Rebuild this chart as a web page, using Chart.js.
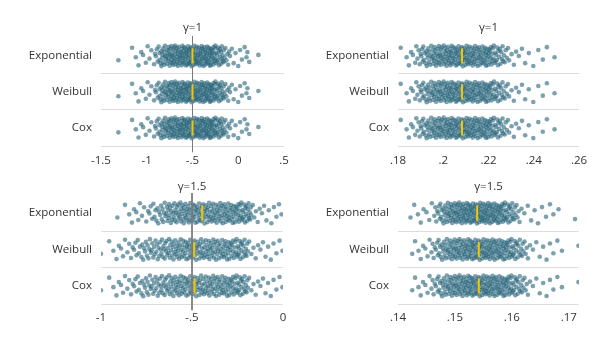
<!DOCTYPE html>
<html>
<head>
<meta charset="utf-8">
<script src="https://cdn.jsdelivr.net/npm/chart.js@4.4.1/dist/chart.umd.min.js"></script>
<style>
  body { margin: 0; background: #fff; }
  #wrap { position: relative; width: 607px; height: 348px; }
  canvas { position: absolute; }
</style>
</head>
<body>
<div id="wrap">
  <canvas id="p1" width="300" height="174" style="left:0;top:0"></canvas>
  <canvas id="p2" width="307" height="174" style="left:300px;top:0"></canvas>
  <canvas id="p3" width="300" height="174" style="left:0;top:174px"></canvas>
  <canvas id="p4" width="307" height="174" style="left:300px;top:174px"></canvas>
</div>
<script>
const rows = ["Exponential", "Weibull", "Cox"];

// vertical jitter of the strips, share of half a row
const jitter = [
  .42,-.77,.13,.91,-.35,-.08,.66,-.92,.27,-.54,.81,-.19,.04,-.63,.55,
  -.88,.37,-.26,.72,-.45,.98,-.11,.19,-.71,.6,-.39,.85,-.03,-.97,.31,
  .08,-.58,.76,-.23,.47,-.84,.22,-.49,.94,-.15,.63,-.68,.01,.39,-.93,
  .7,-.31,-.02,.87,-.6,.17,-.79,.52,-.13,.33,-.99,.79,-.41,.1,-.74,
  .58,-.21,.96,-.51,.26,-.86,.45,-.06,.69,-.36,.14,-.66,.89,-.28,.5,
  -.95,.03,.74,-.44,.21,-.81,.62,-.17,.36,-.7,.93,-.33,.06,-.57,.83,
  -.24,.48,-.9,.15,.67,-.47,-.05,.78,-.62,.29,-.83,.56,-.14,.99,-.38,
  .11,-.73,.4,-.27,.86,-.52,.24,-.96,.64,-.09,.35,-.65,.8,-.2,.53,
  -.87,.18,-.42,.71,-.01,.44,-.78,.92,-.3,.07,-.61,.59,-.16,.32,-.94,
  .77,-.46,.23,-.69,.97,-.12,.49,-.82,.12,-.37,.84,-.55,.28,-.04,.65,
  -.89,.41,-.22,.73,-.5,.16,-.76,.57,-.32,.95,-.07,.34,-.67,.88,-.25,
  .05,-.59,.61,-.43,.2,-.85,.82,-.18,.46,-.72,.25,-.98,.68,-.29,.54,
  -.1,.38,-.8,.9,-.48,.09,-.64,.75,-.34,.3,-.91,.51,-.06,.62,-.53,
  .19,-.75,.43,-.16,.85,-.4,.02,-.68,.7,-.26,.97,-.56,.36,-.83,.13,
  -.35,.58,-.09,.79,-.63,.24,-.97,.47,-.2,.66,-.44,.1,-.87,.91,-.31
];

// gamma = 1, left panel: the three models give the same estimates
const est1Left = [
  -1.31,-1.16,-1.12,-1.09,-1.06,-1.04,-1.01,-0.99,-0.97,-0.95,
  -0.92,-0.91,-0.90,-0.89,-0.88,
  -0.87,-0.86,-0.86,-0.85,-0.84,-0.84,-0.83,-0.83,
  -0.82,-0.82,-0.81,-0.81,-0.80,-0.80,-0.79,-0.79,-0.78,-0.78,
  -0.77,-0.77,-0.76,-0.76,-0.76,-0.75,-0.75,-0.74,-0.74,-0.74,-0.73,-0.73,
  -0.72,-0.72,-0.72,-0.71,-0.71,-0.71,-0.70,-0.70,-0.69,-0.69,-0.69,-0.68,-0.68,
  -0.67,-0.67,-0.67,-0.66,-0.66,-0.66,-0.65,-0.65,-0.64,-0.64,-0.64,-0.63,-0.63,
  -0.62,-0.62,-0.62,-0.61,-0.61,-0.61,-0.60,-0.60,-0.60,-0.59,-0.59,-0.59,-0.58,-0.58,
  -0.57,-0.57,-0.57,-0.56,-0.56,-0.56,-0.55,-0.55,-0.55,-0.54,-0.54,-0.54,-0.53,-0.53,
  -0.52,-0.52,-0.52,-0.51,-0.51,-0.51,-0.50,-0.50,-0.50,-0.49,-0.49,-0.49,-0.48,-0.48,
  -0.47,-0.47,-0.47,-0.46,-0.46,-0.46,-0.45,-0.45,-0.45,-0.44,-0.44,-0.44,-0.43,-0.43,
  -0.42,-0.42,-0.42,-0.41,-0.41,-0.41,-0.40,-0.40,-0.40,-0.39,-0.39,-0.39,-0.38,-0.38,
  -0.37,-0.37,-0.37,-0.36,-0.36,-0.36,-0.35,-0.35,-0.35,-0.34,-0.34,-0.34,-0.33,
  -0.33,-0.32,-0.32,-0.32,-0.31,-0.31,-0.31,-0.30,-0.30,-0.30,-0.29,-0.29,-0.29,
  -0.28,-0.28,-0.27,-0.27,-0.27,-0.26,-0.26,-0.25,-0.25,-0.25,-0.24,-0.24,
  -0.23,-0.23,-0.22,-0.22,-0.21,-0.21,-0.20,-0.20,-0.19,-0.19,
  -0.18,-0.18,-0.17,-0.17,-0.16,-0.16,-0.15,-0.14,
  -0.13,-0.12,-0.11,-0.10,-0.09,
  -0.07,-0.05,-0.03,0.00,0.02,0.04,0.07,0.09,0.10,0.12,0.22
];
const mean1Left = [-0.5, -0.5, -0.5];
const ticks1Left = [-1.5, -1, -0.5, 0, 0.5];
const tickLabels1Left = ["-1.5", "-1", "-.5", "0", ".5"];

// gamma = 1, right panel
const est1Right = [
  .1790,.1812,.1838,.1848,.1858,.1866,
  .1876,.1881,.1886,.1891,.1896,
  .1900,.1903,.1906,.1909,.1912,.1915,.1918,.1922,
  .1925,.1927,.1929,.1932,.1934,.1937,.1939,.1942,.1944,.1947,
  .1950,.1952,.1954,.1956,.1958,.1960,.1962,.1964,.1966,.1968,.1970,.1972,
  .1975,.1977,.1979,.1981,.1982,.1984,.1986,.1988,.1990,.1991,.1993,.1995,.1997,
  .2000,.2002,.2004,.2006,.2007,.2009,.2011,.2013,.2015,.2016,.2018,.2020,.2022,
  .2024,.2026,.2027,.2029,.2031,.2032,.2034,.2036,.2037,.2039,.2041,.2042,.2044,.2046,
  .2049,.2051,.2052,.2054,.2056,.2057,.2059,.2061,.2062,.2064,.2066,.2067,.2069,.2071,
  .2074,.2076,.2077,.2079,.2081,.2082,.2084,.2086,.2087,.2089,.2091,.2092,.2094,.2096,
  .2098,.2100,.2101,.2103,.2105,.2106,.2108,.2110,.2111,.2113,.2115,.2116,.2118,.2120,
  .2123,.2125,.2126,.2128,.2130,.2131,.2133,.2135,.2136,.2138,.2140,.2141,.2143,.2145,
  .2148,.2150,.2152,.2154,.2155,.2157,.2159,.2161,.2163,.2164,.2166,.2168,.2170,
  .2173,.2175,.2177,.2179,.2180,.2182,.2184,.2186,.2188,.2189,.2191,.2193,.2195,
  .2197,.2199,.2201,.2203,.2205,.2207,.2209,.2211,.2213,.2215,.2217,.2219,
  .2222,.2224,.2227,.2229,.2232,.2234,.2237,.2239,.2242,.2244,
  .2247,.2250,.2253,.2256,.2259,.2262,.2265,.2268,
  .2272,.2276,.2281,.2286,.2291,
  .2302,.2312,.2322,.2334,.2348,.2362,.2378,.2398,.2420,.2440,.2458,.2492
];
const mean1Right = [0.2083, 0.2083, 0.2083];
const ticks1Right = [0.18, 0.2, 0.22, 0.24, 0.26];
const tickLabels1Right = [".18", ".2", ".22", ".24", ".26"];

// gamma = 1.5, left panel
const est15LeftExp = [
  -.910,-.868,-.845,-.830,-.818,-.806,-.795,-.786,
  -.775,-.763,-.751,
  -.741,-.734,-.727,-.719,-.712,
  -.706,-.701,-.696,-.690,-.685,-.680,-.675,
  -.670,-.666,-.662,-.658,-.654,-.650,-.646,-.642,-.638,
  -.635,-.632,-.629,-.626,-.623,-.620,-.616,-.613,-.610,-.607,-.603,
  -.600,-.597,-.594,-.591,-.588,-.585,-.582,-.579,-.576,-.573,-.570,-.567,
  -.564,-.561,-.559,-.556,-.553,-.550,-.547,-.545,-.542,-.539,-.536,-.533,-.531,
  -.528,-.525,-.523,-.520,-.517,-.514,-.511,-.509,-.506,-.503,-.500,-.497,-.495,
  -.492,-.489,-.487,-.484,-.481,-.478,-.475,-.473,-.470,-.467,-.464,-.461,-.459,
  -.456,-.453,-.451,-.448,-.445,-.442,-.439,-.437,-.434,-.431,-.428,-.425,-.423,
  -.420,-.417,-.415,-.412,-.409,-.406,-.403,-.401,-.398,-.395,-.392,-.389,-.387,
  -.384,-.381,-.379,-.376,-.373,-.370,-.367,-.365,-.362,-.359,-.356,-.353,-.351,
  -.348,-.345,-.343,-.340,-.337,-.334,-.331,-.329,-.326,-.323,-.320,-.317,-.315,
  -.312,-.309,-.307,-.304,-.301,-.298,-.295,-.293,-.290,-.287,-.284,-.281,-.279,
  -.276,-.273,-.271,-.268,-.265,-.262,-.259,-.257,-.254,-.251,-.248,-.245,-.243,
  -.240,-.237,-.235,-.232,-.229,-.226,-.223,-.221,-.218,-.215,-.212,-.209,-.207,
  -.204,-.201,-.198,-.195,-.192,-.189,-.186,-.183,-.180,-.177,-.174,
  -.166,-.158,-.149,-.139,-.128,-.116,-.104,-.091,-.078,-.064,-.050,-.036,-.022,-.008
];
const est15LeftWC = [
  -1.000,-.955,-.932,-.915,-.902,-.890,-.879,-.868,
  -.855,-.845,-.835,-.826,
  -.818,-.811,-.805,-.798,-.792,-.786,
  -.778,-.773,-.768,-.763,-.758,-.753,-.748,-.744,
  -.739,-.735,-.731,-.726,-.722,-.718,-.713,-.709,-.705,
  -.700,-.696,-.692,-.688,-.684,-.680,-.676,-.672,-.668,-.665,
  -.661,-.657,-.654,-.650,-.647,-.643,-.640,-.636,-.633,-.629,-.626,
  -.622,-.619,-.615,-.612,-.609,-.605,-.602,-.599,-.596,-.592,-.589,-.586,
  -.583,-.580,-.577,-.574,-.571,-.568,-.565,-.562,-.559,-.556,-.553,-.550,-.547,
  -.543,-.540,-.537,-.534,-.531,-.528,-.525,-.522,-.519,-.516,-.513,-.510,-.507,
  -.504,-.501,-.498,-.495,-.492,-.489,-.486,-.483,-.480,-.477,-.474,-.471,-.468,
  -.465,-.462,-.459,-.456,-.453,-.450,-.447,-.444,-.441,-.438,-.435,-.432,-.429,
  -.425,-.422,-.419,-.416,-.413,-.410,-.407,-.404,-.401,-.398,-.395,-.392,-.389,
  -.386,-.383,-.380,-.377,-.374,-.371,-.368,-.365,-.362,-.359,-.356,-.353,-.350,
  -.346,-.343,-.340,-.337,-.334,-.331,-.328,-.325,-.322,-.319,-.316,-.313,-.310,
  -.307,-.304,-.301,-.298,-.295,-.292,-.289,-.286,-.283,-.280,-.277,-.274,-.271,
  -.267,-.264,-.261,-.258,-.255,-.252,-.249,-.246,-.243,-.240,-.237,-.234,-.231,
  -.228,-.225,-.221,-.218,-.214,-.211,-.207,-.204,-.200,-.197,-.193,
  -.186,-.174,-.162,-.150,-.137,-.124,-.110,-.096,-.082,-.067,-.052,-.036,-.019,-.003
];
const mean15Left = [-0.444, -0.488, -0.486];
const ticks15Left = [-1, -0.5, 0];
const tickLabels15Left = ["-1", "-.5", "0"];

// gamma = 1.5, right panel
const est15RightExp = [
  .14220,.14285,.14350,.14400,.14450,.14500,.14550,.14595,
  .14638,.14655,.14672,.14689,.14707,
  .14724,.14735,.14746,.14757,.14768,.14779,.14790,.14801,
  .14813,.14822,.14831,.14840,.14849,.14858,.14867,.14876,.14885,.14893,
  .14902,.14909,.14917,.14924,.14932,.14939,.14947,.14954,.14962,.14969,.14977,.14984,
  .14992,.14999,.15006,.15013,.15020,.15027,.15033,.15040,.15047,.15054,.15061,.15068,.15074,
  .15081,.15088,.15095,.15102,.15109,.15116,.15122,.15129,.15136,.15143,.15150,.15157,.15163,
  .15170,.15176,.15183,.15189,.15196,.15202,.15208,.15215,.15221,.15228,.15234,.15240,.15247,.15253,
  .15259,.15265,.15272,.15278,.15285,.15291,.15297,.15304,.15310,.15317,.15323,.15329,.15336,.15342,
  .15349,.15355,.15361,.15368,.15374,.15381,.15387,.15393,.15400,.15406,.15413,.15419,.15425,.15432,
  .15438,.15444,.15451,.15457,.15464,.15470,.15476,.15483,.15489,.15496,.15502,.15508,.15515,.15521,
  .15528,.15534,.15540,.15547,.15553,.15560,.15566,.15572,.15579,.15585,.15592,.15598,.15604,.15611,
  .15617,.15624,.15631,.15638,.15645,.15652,.15658,.15665,.15672,.15679,.15686,.15693,.15699,
  .15706,.15713,.15720,.15727,.15734,.15741,.15747,.15754,.15761,.15768,.15775,.15782,.15788,
  .15796,.15803,.15811,.15818,.15826,.15833,.15841,.15848,.15856,.15863,.15871,.15878,
  .15886,.15895,.15904,.15913,.15922,.15931,.15940,.15949,.15958,.15966,
  .15975,.15986,.15997,.16008,.16019,.16030,.16041,.16052,
  .16066,.16083,.16100,.16117,.16135,
  .16170,.16220,.16280,.16340,.16400,.16460,.16530,.16600,.16670,.16730,.16820,.17110
];
const est15RightWC = [
  .14250,.14300,.14360,.14400,.14440,.14480,.14520,.14555,
  .14588,.14607,.14627,.14646,.14666,
  .14688,.14700,.14713,.14725,.14738,.14750,.14763,.14775,
  .14789,.14799,.14809,.14819,.14829,.14839,.14849,.14859,.14869,.14878,
  .14888,.14896,.14905,.14913,.14922,.14930,.14939,.14947,.14956,.14964,.14973,.14980,
  .14989,.14997,.15004,.15012,.15020,.15028,.15035,.15043,.15051,.15059,.15066,.15074,.15081,
  .15090,.15098,.15105,.15113,.15121,.15129,.15136,.15144,.15152,.15160,.15167,.15175,.15182,
  .15191,.15198,.15205,.15212,.15220,.15227,.15234,.15241,.15248,.15256,.15263,.15270,.15277,.15284,
  .15292,.15299,.15306,.15313,.15321,.15328,.15335,.15342,.15349,.15357,.15364,.15371,.15378,.15385,
  .15394,.15401,.15408,.15415,.15423,.15430,.15437,.15444,.15451,.15459,.15466,.15473,.15480,.15487,
  .15495,.15502,.15509,.15516,.15524,.15531,.15538,.15545,.15552,.15560,.15567,.15574,.15581,.15588,
  .15596,.15603,.15610,.15617,.15625,.15632,.15639,.15646,.15653,.15661,.15668,.15675,.15682,.15689,
  .15697,.15705,.15713,.15720,.15728,.15736,.15744,.15751,.15759,.15767,.15775,.15782,.15790,
  .15798,.15806,.15814,.15821,.15829,.15837,.15845,.15852,.15860,.15868,.15876,.15883,.15891,
  .15900,.15908,.15917,.15925,.15934,.15942,.15951,.15959,.15968,.15976,.15985,.15993,
  .16001,.16011,.16021,.16031,.16041,.16051,.16061,.16071,.16081,.16091,
  .16102,.16115,.16127,.16140,.16152,.16165,.16177,.16190,
  .16204,.16223,.16243,.16262,.16282,
  .16320,.16370,.16430,.16490,.16550,.16610,.16670,.16730,.16800,.16880,.17170
];
const mean15Right = [0.1539, 0.1542, 0.1542];
const ticks15Right = [0.14, 0.15, 0.16, 0.17];
const tickLabels15Right = [".14", ".15", ".16", ".17"];

const trueValue = -0.5;

Chart.defaults.font.family = "'Open Sans', sans-serif";
Chart.defaults.font.size = 11.5;
Chart.defaults.color = "#333";

function panel(id, cfg) {
  const datasets = [];
  cfg.means.forEach((m, r) => {
    datasets.push({
      data: [{ x: m, y: r + 0.5 - 0.21 }, { x: m, y: r + 0.5 + 0.21 }],
      showLine: true, borderColor: "#f2c500", borderWidth: 2,
      pointRadius: 0, yAxisID: "y", order: 1
    });
  });
  if (cfg.ref !== undefined) {
    datasets.push({
      data: [{ x: cfg.ref, y: -0.05 }, { x: cfg.ref, y: 3.17 }],
      showLine: true, borderColor: "#7a7a7a", borderWidth: 1,
      pointRadius: 0, clip: false, yAxisID: "y", order: 2
    });
  }
  cfg.series.forEach((vals, r) => {
    datasets.push({
      data: vals.map((v, i) => ({ x: v, y: r + 0.5 + jitter[i] * 0.29 })),
      backgroundColor: "rgba(36,98,120,0.6)",
      pointBorderWidth: 0, borderWidth: 0,
      pointRadius: 2.3, yAxisID: "y", order: 3
    });
  });

  new Chart(document.getElementById(id), {
    type: "scatter",
    data: { datasets: datasets },
    options: {
      responsive: false,
      animation: false,
      devicePixelRatio: 1,
      layout: { padding: { left: 0, right: cfg.padRight, top: 0, bottom: 0 } },
      plugins: {
        legend: { display: false },
        tooltip: { enabled: false },
        title: {
          display: true, text: cfg.title, fullSize: false,
          color: "#333", font: { size: 11.5, weight: "normal" },
          padding: cfg.titlePad
        }
      },
      scales: {
        x: {
          type: "linear", min: cfg.min, max: cfg.max,
          grid: { display: false, drawTicks: false },
          border: { display: false },
          afterBuildTicks: (a) => { a.ticks = cfg.ticks.map(v => ({ value: v })); },
          afterFit: (a) => { a.height = cfg.xHeight; },
          ticks: {
            autoSkip: false, maxRotation: 0, padding: cfg.xPad,
            callback: (v, i) => cfg.tickLabels[i]
          }
        },
        y: {
          type: "linear", position: "left", min: 0, max: 3, reverse: true,
          grid: { display: false, drawTicks: false },
          border: { display: false },
          afterBuildTicks: (a) => { a.ticks = rows.map((r, i) => ({ value: i + 0.5 })); },
          afterFit: (a) => { a.width = cfg.yWidth; },
          ticks: { padding: 9, callback: (v) => rows[Math.floor(v)] }
        },
        sep: {
          type: "linear", position: "right", min: 0, max: 3, reverse: true,
          grid: { color: "#dcdcdc", lineWidth: 1, drawTicks: false },
          border: { display: false },
          ticks: { display: false },
          afterBuildTicks: (a) => { a.ticks = [1, 2, 3].map(v => ({ value: v })); },
          afterFit: (a) => { a.width = 0; }
        }
      }
    }
  });
}

panel("p1", {
  title: "γ=1", series: [est1Left, est1Left, est1Left], means: mean1Left, ref: trueValue,
  min: -1.5, max: 0.5, ticks: ticks1Left, tickLabels: tickLabels1Left,
  yWidth: 101, padRight: 16, xHeight: 28, xPad: 8, titlePad: { top: 21, bottom: 3 }
});
panel("p2", {
  title: "γ=1", series: [est1Right, est1Right, est1Right], means: mean1Right,
  min: 0.18, max: 0.26, ticks: ticks1Right, tickLabels: tickLabels1Right,
  yWidth: 98, padRight: 28, xHeight: 28, xPad: 8, titlePad: { top: 21, bottom: 3 }
});
panel("p3", {
  title: "γ=1.5", series: [est15LeftExp, est15LeftWC, est15LeftWC], means: mean15Left, ref: trueValue,
  min: -1, max: 0, ticks: ticks15Left, tickLabels: tickLabels15Left,
  yWidth: 101, padRight: 17, xHeight: 44, xPad: 7, titlePad: { top: 6, bottom: 1 }
});
panel("p4", {
  title: "γ=1.5", series: [est15RightExp, est15RightWC, est15RightWC], means: mean15Right,
  min: 0.14, max: 0.1718, ticks: ticks15Right, tickLabels: tickLabels15Right,
  yWidth: 98, padRight: 28, xHeight: 44, xPad: 7, titlePad: { top: 6, bottom: 1 }
});
</script>
</body>
</html>
